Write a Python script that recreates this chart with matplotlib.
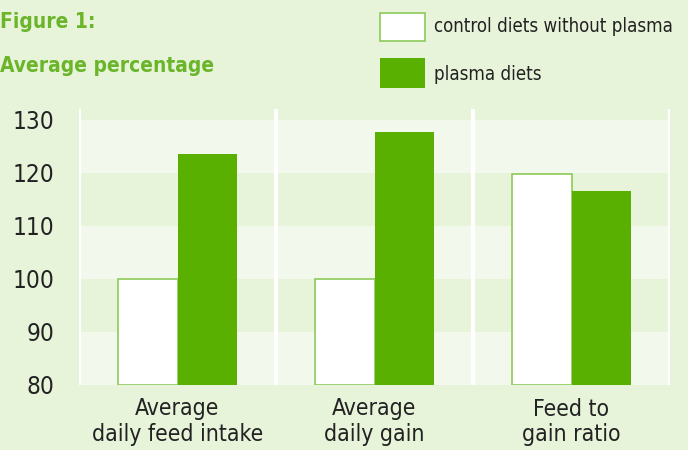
import matplotlib
matplotlib.use("Agg")
import matplotlib.pyplot as plt
from matplotlib.patches import Rectangle

categories = ["Average\ndaily feed intake", "Average\ndaily gain", "Feed to\ngain ratio"]
control = [100, 100, 119.8]
plasma = [123.5, 127.6, 116.6]
series_labels = ["control diets without plasma", "plasma diets"]
yticks = [80, 90, 100, 110, 120, 130]

plt.rcParams['font.family'] = ["DejaVu Sans"]
plt.rcParams['font.stretch'] = "condensed"

BG = "#e8f4da"
LIGHT = "#f2f9ec"
GREEN = "#5ab000"
EDGE = "#8cca5a"
TITLE = "#6ab52a"
TXT = "#222222"

W, H = 688, 450
fig = plt.figure(figsize=(W / 100, H / 100), dpi=100, facecolor=BG)
ax = fig.add_axes([79 / W, (H - 385) / H, (670 - 79) / W, (385 - 109) / H])
ax.set_facecolor(BG)
ax.set_xlim(-0.5, 2.5)
ax.set_ylim(80, 132)

for lo in (80, 100, 120):
    ax.axhspan(lo, lo + 10, color=LIGHT, zorder=0, lw=0)
for xv in (-0.5, 0.5, 1.5, 2.5):
    ax.axvline(xv, color="white", lw=3, zorder=1)

x = list(range(len(categories)))
bw = 0.3
ax.bar([i - bw / 2 for i in x], [c - 80 for c in control], bottom=80, width=bw,
       color="white", edgecolor=EDGE, linewidth=1.2, zorder=2)
ax.bar([i + bw / 2 for i in x], [p - 80 for p in plasma], bottom=80, width=bw,
       color=GREEN, linewidth=0, zorder=2)

ax.set_yticks(yticks)
ax.set_yticklabels([str(t) for t in yticks], fontsize=17.5, color=TXT)
ax.set_xticks(x)
ax.set_xticklabels(categories, fontsize=16.5, color=TXT, linespacing=1.15)
ax.tick_params(axis="y", length=0, pad=18)
ax.tick_params(axis="x", length=0, pad=9)
for s in ax.spines.values():
    s.set_visible(False)

# Title
fig.text(0 / W, 1 - 22 / H, "Figure 1:", fontsize=15, fontweight="bold", color=TITLE,
         va="center", ha="left")
fig.text(0 / W, 1 - 66 / H, "Average percentage", fontsize=15, fontweight="bold", color=TITLE,
         va="center", ha="left")

# Legend
fig.add_artist(Rectangle((380 / W, 1 - 41 / H), 45 / W, 28 / H, transform=fig.transFigure,
                         facecolor="white", edgecolor=EDGE, lw=1.2))
fig.add_artist(Rectangle((380 / W, 1 - 88 / H), 45 / W, 30 / H, transform=fig.transFigure,
                         facecolor=GREEN, edgecolor="none"))
fig.text(434 / W, 1 - 27 / H, series_labels[0], fontsize=13.4, color=TXT, va="center", ha="left")
fig.text(434 / W, 1 - 74 / H, series_labels[1], fontsize=13.4, color=TXT, va="center", ha="left")

fig.savefig("out.png", dpi=100, facecolor=BG)
